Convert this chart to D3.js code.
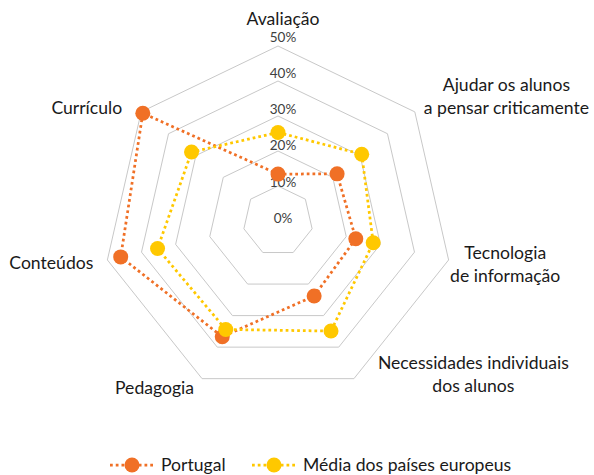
<!DOCTYPE html>
<meta charset="utf-8">
<style>
    body { margin: 0; background: #fff; }
    .grid { fill: none; stroke: #c8c8c8; stroke-width: 1; }
    .tick { font: 13.5px Lato, sans-serif; fill: #404040; text-anchor: middle; }
    .cat { font: 17.6px Lato, sans-serif; fill: #1a1a1a; }
    .legend text { font: 17.6px Lato, sans-serif; fill: #1a1a1a; }
</style>
<body>
<script src="https://cdn.jsdelivr.net/npm/d3@7"></script>
<script>
    var width = 594,
        height = 475

    // data
    var categories = [["Avaliação"], ["Ajudar os alunos", "a pensar criticamente"], ["Tecnologia", "de informação"],
        ["Necessidades individuais", "dos alunos"], ["Pedagogia"], ["Conteúdos"], ["Currículo"]];
    var seriesNames = ["Portugal", "Média dos países europeus"];
    var portugal = [13.4, 21.6, 22.8, 23.8, 36.7, 46.1, 49.4];
    var mediaEuropa = [25.3, 30.6, 27.9, 34.9, 34.4, 35.3, 31.6];
    var tickValues = [0, 10, 20, 30, 40, 50];

    // label placement relative to the outer ring vertex: [side, dx, dy of block centre]
    var labelLayout = [["middle", 5, -27], ["start", 9, -15.5], ["start", 1.5, 4], ["start", 24, -4.7],
        ["end", -8, 9.3], ["end", -14, 3], ["end", -19, -4]];

    var colors = ["#f07026", "#ffc800"];
    var cx = 278, cy = 221;

    var svg = d3.select("body").append("svg")
        .attr("width", width)
        .attr("height", height);

    var r = d3.scaleLinear().domain([0, 50]).range([0, 175]);
    var angle = d3.scaleLinear().domain([0, categories.length]).range([0, 2 * Math.PI]);

    function pt(i, v) {
        var a = angle(i);
        return [cx + r(v) * Math.sin(a), cy - r(v) * Math.cos(a)];
    }

    var g = svg.append("g");

    // rings
    var ring = d3.line().curve(d3.curveLinearClosed);
    g.selectAll(".grid")
        .data(tickValues.filter(function (d) { return d > 0; }))
        .enter().append("path")
        .attr("class", "grid")
        .attr("d", function (v) {
            return ring(categories.map(function (c, i) { return pt(i, v); }));
        });

    // tick labels
    g.selectAll(".tick")
        .data(tickValues)
        .enter().append("text")
        .attr("class", "tick")
        .attr("x", cx + 5)
        .attr("y", function (v) { return cy - r(v) * 1.035 - 3; })
        .attr("dy", "0.35em")
        .text(function (v) { return v + "%"; });

    // category labels
    var lineH = 23;
    categories.forEach(function (lines, i) {
        var p = pt(i, 50), lay = labelLayout[i];
        var t = g.append("text").attr("class", "cat");
        lines.forEach(function (l) {
            t.append("tspan").text(l);
        });
        var widths = [];
        t.selectAll("tspan").each(function () { widths.push(this.getComputedTextLength()); });
        var w = d3.max(widths);
        var mid;
        if (lay[0] == "start") mid = p[0] + lay[1] + w / 2;
        else if (lay[0] == "end") mid = p[0] + lay[1] - w / 2;
        else mid = p[0] + lay[1];
        var midY = p[1] + lay[2];
        var h = lines.length * lineH;
        t.selectAll("tspan")
            .attr("text-anchor", "middle")
            .attr("x", mid)
            .attr("y", function (d, k) { return midY - h / 2 + lineH * (k + 0.5); })
            .attr("dy", "0.35em");
    });

    // series
    var line = d3.line().curve(d3.curveLinearClosed);
    [portugal, mediaEuropa].forEach(function (vals, s) {
        var pts = vals.map(function (v, i) { return pt(i, v); });
        g.append("path")
            .attr("d", line(pts))
            .attr("fill", "none")
            .attr("stroke", colors[s])
            .attr("stroke-width", 2.75)
            .attr("stroke-dasharray", "2.75 3");
        g.selectAll(".m" + s)
            .data(pts)
            .enter().append("circle")
            .attr("class", "m" + s)
            .attr("cx", function (d) { return d[0]; })
            .attr("cy", function (d) { return d[1]; })
            .attr("r", 7.5)
            .attr("fill", colors[s]);
    });

    // legend
    var legend = svg.append("g").attr("class", "legend");
    var lx = [110, 252], ly = 465;
    seriesNames.forEach(function (name, s) {
        legend.append("line")
            .attr("x1", lx[s]).attr("x2", lx[s] + 44)
            .attr("y1", ly).attr("y2", ly)
            .attr("stroke", colors[s])
            .attr("stroke-width", 2.75)
            .attr("stroke-dasharray", "2.75 3");
        legend.append("circle")
            .attr("cx", lx[s] + 22).attr("cy", ly)
            .attr("r", 7.5)
            .attr("fill", colors[s]);
        legend.append("text")
            .attr("x", lx[s] + 51).attr("y", ly)
            .attr("dy", "0.35em")
            .text(name);
    });
</script>
